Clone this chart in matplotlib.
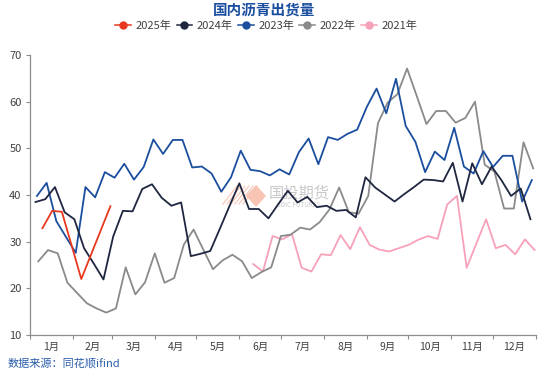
import numpy as np
import pandas as pd
import matplotlib
matplotlib.use("Agg")
import matplotlib.pyplot as plt
from matplotlib.patches import Polygon

plt.rcParams['font.family'] = ['Noto Sans CJK SC', 'DejaVu Sans']

# -------------------------------
# Weekly asphalt shipments
# -------------------------------
months = ["1月", "2月", "3月", "4月", "5月", "6月",
          "7月", "8月", "9月", "10月", "11月", "12月"]

start_2025 = "2025-01-10"
vals_2025 = [32.9, 36.6, 36.4, 29.2, 22.0, 27.2, 32.4, 37.6]

start_2024 = "2024-01-05"
vals_2024 = [38.5, 39.1, 41.7, 36.3, 34.8, 28.6, 25.3, 21.9, 31.1, 36.6,
             36.5, 41.3, 42.3, 39.4, 37.7, 38.4, 26.9, 27.4, 28.0, 32.8,
             37.7, 42.5, 37.0, 37.0, 35.0, 38.0, 40.9, 38.4, 39.6, 37.4,
             37.7, 36.6, 36.8, 35.2, 43.8, 41.6, 40.1, 38.6, 40.2, 41.7,
             43.3, 43.2, 42.9, 46.9, 38.6, 46.8, 42.3, 46.1, 43.2, 39.8,
             41.4, 34.8]

start_2023 = "2023-01-06"
vals_2023 = [39.8, 42.6, 34.4, 31.0, 27.6, 41.7, 39.5, 44.9, 43.7, 46.7,
             43.3, 46.0, 51.9, 48.8, 51.8, 51.8, 45.9, 46.1, 44.6, 40.7,
             43.8, 49.5, 45.4, 45.1, 44.2, 45.5, 44.4, 49.2, 52.1, 46.6,
             52.4, 51.8, 53.1, 54.0, 58.9, 62.8, 57.5, 64.9, 54.8, 51.4,
             44.9, 49.3, 47.5, 54.4, 46.1, 44.6, 49.4, 46.0, 48.4, 48.4,
             38.6, 43.2]

start_2022 = "2022-01-07"
vals_2022 = [25.8, 28.2, 27.5, 21.2, 19.0, 16.8, 15.7, 14.8, 15.7, 24.5,
             18.7, 21.3, 27.5, 21.2, 22.2, 29.4, 32.6, 28.3, 24.1, 26.0,
             27.2, 25.8, 22.2, 23.5, 24.5, 31.2, 31.5, 33.0, 32.6, 34.2,
             36.9, 41.6, 36.3, 36.0, 39.8, 55.4, 59.8, 61.6, 67.1, 61.2,
             55.2, 58.0, 58.0, 55.5, 56.5, 60.0, 46.5, 45.0, 37.1, 37.1,
             51.3, 45.7]

start_2021 = "2021-06-11"
vals_2021 = [25.2, 23.6, 31.2, 30.5, 31.6, 24.4, 23.6, 27.3, 27.1, 31.4,
             28.4, 33.1, 29.3, 28.3, 27.9, 28.6, 29.3, 30.4, 31.2, 30.6,
             38.0, 39.8, 24.4, 29.6, 34.8, 28.6, 29.3, 27.3, 30.5, 28.2]

series = [
    ("2025年", start_2025, vals_2025, "#e8381f"),
    ("2024年", start_2024, vals_2024, "#1f2640"),
    ("2023年", start_2023, vals_2023, "#1a4e9e"),
    ("2022年", start_2022, vals_2022, "#8a8a8a"),
    ("2021年", start_2021, vals_2021, "#f7a1b9"),
]

fig = plt.figure(figsize=(5.5, 3.75), dpi=100)
ax = fig.add_axes([30 / 550, 1 - 335 / 375, 506 / 550, 280 / 375])

# watermark (drawn behind the lines)
wm = fig.transFigure
ax.add_patch(Polygon([[247 / 550, 1 - 196 / 375], [256 / 550, 1 - 186 / 375],
                      [265 / 550, 1 - 196 / 375], [256 / 550, 1 - 206 / 375]],
                     closed=True, transform=wm, color="#f8c4b4", zorder=0.3,
                     clip_on=False))
for k in range(6):
    x0 = (223 + k * 4) / 550
    ax.plot([x0, x0 + 14 / 550], [1 - 204 / 375, 1 - 186 / 375], transform=wm,
            color="#f8c4b4", lw=0.8, zorder=0.3, clip_on=False)
ax.text(299 / 550, 1 - 193 / 375, "国投期货", transform=wm, fontsize=11,
        color="#c9c9c9", ha="center", va="center", zorder=0.3)
ax.text(299 / 550, 1 - 205 / 375, "SDIC FUTURES", transform=wm, fontsize=4.5,
        color="#c9c9c9", ha="center", va="center", zorder=0.3)

# plot each year on a day-of-year axis
zo = 5
for label, start, vals, color in series:
    dates = pd.date_range(start, periods=len(vals), freq="7D")
    x = dates.dayofyear - 1
    ax.plot(x, vals, color=color, lw=1.3, label=label, zorder=zo,
            marker="o", markersize=0, markevery=[0])
    zo -= 1

ax.set_xlim(0, 365)
ax.set_ylim(10, 70)
ax.set_yticks(np.arange(10, 71, 10))

month_starts = pd.date_range("2023-01-01", periods=13, freq="MS").dayofyear - 1
month_starts = list(month_starts[:12]) + [365]
ax.set_xticks(month_starts)
ax.set_xticklabels([])
ax.set_xticks([(month_starts[i] + month_starts[i + 1]) / 2 for i in range(12)],
              minor=True)
ax.set_xticklabels(months, minor=True)
ax.tick_params(axis="x", which="minor", length=0, pad=5, labelsize=7.5,
               labelcolor="#404040")
ax.tick_params(axis="x", which="major", length=3, color="#8c8c8c")
ax.tick_params(axis="y", length=3, color="#8c8c8c", labelsize=8,
               labelcolor="#404040", pad=3)

for s in ["top", "right"]:
    ax.spines[s].set_visible(False)
for s in ["left", "bottom"]:
    ax.spines[s].set_color("#8c8c8c")
    ax.spines[s].set_linewidth(0.9)

# title, legend, source
fig.text(264 / 550, 1 - 10 / 375, "国内沥青出货量", fontsize=10.5,
         fontweight="bold", color="#1a4e9e", ha="center", va="center")

from matplotlib.lines import Line2D
handles = [Line2D([0], [0], color=c, lw=1.1, marker="o", markersize=5)
           for _, _, _, c in series]
fig.legend(handles, [s[0] for s in series], loc="center",
           bbox_to_anchor=(266 / 550, 1 - 26 / 375), ncol=5, frameon=False,
           fontsize=8, handlelength=1.4, handletextpad=0.4,
           columnspacing=0.5, labelcolor="#404040")

fig.text(8 / 550, 1 - 363 / 375, "数据来源：同花顺ifind", fontsize=8,
         color="#2a5caa", ha="left", va="center")

plt.savefig("out.png", dpi=100)
